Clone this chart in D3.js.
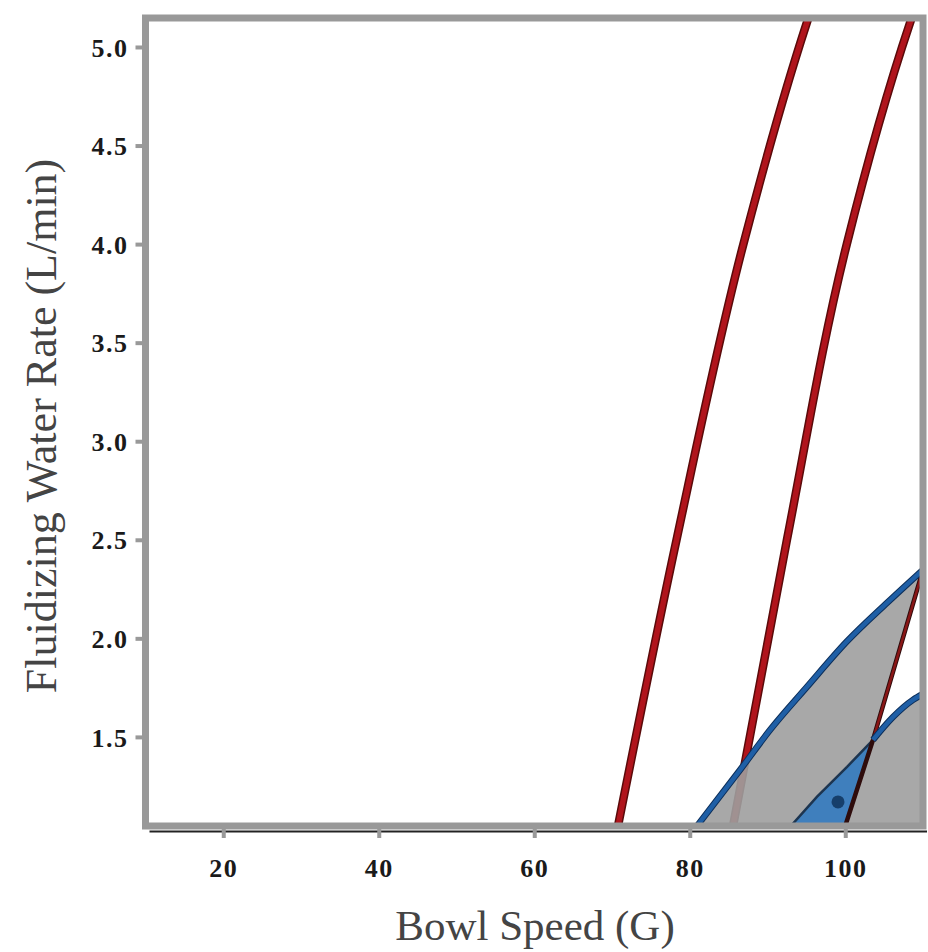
<!DOCTYPE html>
<html>
<head>
<meta charset="utf-8">
<script src="https://cdn.jsdelivr.net/npm/d3@7"></script>
<style>
  html, body { margin: 0; padding: 0; background: #fff; }
  svg { display: block; }
</style>
</head>
<body>
<svg id="chart" width="928" height="952"></svg>
<script>
// ---- data ----
const xTicks = [20, 40, 60, 80, 100];
const yTicks = [1.5, 2.0, 2.5, 3.0, 3.5, 4.0, 4.5, 5.0];
const xTitle = "Bowl Speed (G)";
const yTitle = "Fluidizing Water Rate (L/min)";

// red contour lines (Bowl Speed, Water Rate)
const redLine1X = [70.77, 78.3, 86.9, 95.05, 95.7];
const redLine1Y = [1.048, 2.5, 4.0, 5.122, 5.2];
const redLine2X = [85.57, 92.5, 100.2, 108.33, 109.0];
const redLine2Y = [1.048, 2.5, 4.0, 5.122, 5.2];
// dark boundary line inside the shaded region
const darkLineX = [100.0, 103.57, 110.0];
const darkLineY = [1.048, 1.485, 2.348];
// upper blue contour
const blueUpperX = [80.93, 86.46, 90.32, 95.08, 100.23, 105.37, 110.0];
const blueUpperY = [1.048, 1.332, 1.535, 1.754, 1.985, 2.18, 2.348];
// lower blue contour
const blueLowerX = [93.0, 96.35, 100.23, 103.57, 106.14, 108.71, 110.0];
const blueLowerY = [1.048, 1.196, 1.348, 1.485, 1.601, 1.688, 1.718];
// optimum point
const pointX = [99.07];
const pointY = [1.17];

// ---- scales ----
const svg = d3.select("#chart");
const x = d3.scaleLinear().domain([10, 110]).range([145.5, 923]);
const y = d3.scaleLinear().domain([1.048, 5.147]).range([826, 18]);
const zip = (xs, ys) => xs.map((v, i) => [v, ys[i]]);
const line = d3.line().x(d => x(d[0])).y(d => y(d[1]));
const smooth = d3.line().x(d => x(d[0])).y(d => y(d[1])).curve(d3.curveMonotoneY);
const smoothX = d3.line().x(d => x(d[0])).y(d => y(d[1])).curve(d3.curveMonotoneX);

svg.append("defs").append("clipPath").attr("id", "clip")
  .append("rect").attr("x", x(10)).attr("y", y(5.147))
  .attr("width", x(110) - x(10)).attr("height", y(1.048) - y(5.147));

const plot = svg.append("g").attr("clip-path", "url(#clip)");

// red lines
[zip(redLine1X, redLine1Y), zip(redLine2X, redLine2Y)].forEach(pts => {
  plot.append("path").attr("d", smooth(pts)).attr("fill", "none")
    .attr("stroke", "#5a0a0a").attr("stroke-width", 8.5);
  plot.append("path").attr("d", smooth(pts)).attr("fill", "none")
    .attr("stroke", "#b0141c").attr("stroke-width", 5.5);
});

// gray region
const upper = zip(blueUpperX, blueUpperY);
const lower = zip(blueLowerX, blueLowerY);
const lowerRight = lower.filter(d => d[0] >= 103.57);
const grayPoly = upper.concat([[110, 2.348], [103.57, 1.485]])
  .concat(lowerRight)
  .concat([[110, 1.048], [80.93, 1.048]]);
plot.append("path").attr("d", line(grayPoly) + "Z")
  .attr("fill", "#9f9f9f").attr("fill-opacity", 0.9);

// blue triangle
const lowerLeft = lower.filter(d => d[0] <= 103.57);
const bluePoly = lowerLeft.concat([[100.0, 1.048]]);
plot.append("path").attr("d", line(bluePoly) + "Z")
  .attr("fill", "#3f7fbd").attr("stroke", "#1d3550").attr("stroke-width", 2.5);
plot.append("path").attr("d", line([[93.0, 1.048], [100.0, 1.048]]))
  .attr("stroke", "#15273d").attr("stroke-width", 5);

// dark line
const dark = zip(darkLineX, darkLineY);
plot.append("path").attr("d", line(dark)).attr("fill", "none")
  .attr("stroke", "#2e0c0c").attr("stroke-width", 4.5);
plot.append("path").attr("d", line([dark[1], dark[2]])).attr("fill", "none")
  .attr("stroke", "#8a1616").attr("stroke-width", 2.5);

// blue curves
[upper, lowerRight].forEach(pts => {
  plot.append("path").attr("d", smoothX(pts)).attr("fill", "none")
    .attr("stroke", "#0d2f5a").attr("stroke-width", 6.5);
  plot.append("path").attr("d", smoothX(pts)).attr("fill", "none")
    .attr("stroke", "#1f5fa6").attr("stroke-width", 4.5);
});

// point
plot.selectAll("circle.pt").data(zip(pointX, pointY)).enter().append("circle")
  .attr("cx", d => x(d[0])).attr("cy", d => y(d[1])).attr("r", 6.5)
  .attr("fill", "#163f6b");

// frame
svg.append("rect").attr("x", x(10)).attr("y", y(5.147))
  .attr("width", x(110) - x(10)).attr("height", y(1.048) - y(5.147))
  .attr("fill", "none").attr("stroke", "#999").attr("stroke-width", 7);
svg.append("line").attr("x1", x(10) + 4).attr("x2", x(110) + 4)
  .attr("y1", y(1.048) + 5.5).attr("y2", y(1.048) + 5.5)
  .attr("stroke", "#222").attr("stroke-width", 2);

// axes
const tickFont = g => g.attr("font-family", "'Liberation Serif', serif").attr("font-weight", "bold")
  .attr("font-size", 26).attr("fill", "#1a1a1a").attr("letter-spacing", 1.5);
const xAxis = d3.axisBottom(x).tickValues(xTicks).tickSize(0).tickPadding(0).tickFormat(d3.format("d"));
const gx = svg.append("g").attr("transform", `translate(0,${y(1.048) + 3})`).call(xAxis);
gx.select(".domain").remove();
gx.selectAll(".tick").append("line").attr("x1", 0).attr("x2", 0).attr("y1", 0).attr("y2", 9)
  .attr("stroke", "#999").attr("stroke-width", 4);
gx.selectAll(".tick text").attr("y", 48).attr("dy", 0).call(tickFont);

const yAxis = d3.axisLeft(y).tickValues(yTicks).tickSize(0).tickPadding(0).tickFormat(d3.format(".1f"));
const gy = svg.append("g").attr("transform", `translate(${x(10) - 3},0)`).call(yAxis);
gy.select(".domain").remove();
gy.selectAll(".tick").append("line").attr("x1", 0).attr("x2", -7).attr("y1", 0).attr("y2", 0)
  .attr("stroke", "#999").attr("stroke-width", 4);
gy.selectAll(".tick text").attr("x", -14).attr("dy", "0.35em").call(tickFont);

// titles
svg.append("text").attr("x", 535).attr("y", 940).attr("text-anchor", "middle")
  .attr("font-family", "'Liberation Serif', serif").attr("font-size", 43).attr("fill", "#444")
  .text(xTitle);
svg.append("text").attr("transform", "translate(56,426) rotate(-90)").attr("text-anchor", "middle")
  .attr("font-family", "'Liberation Serif', serif").attr("font-size", 44).attr("fill", "#444")
  .text(yTitle);
</script>
</body>
</html>
